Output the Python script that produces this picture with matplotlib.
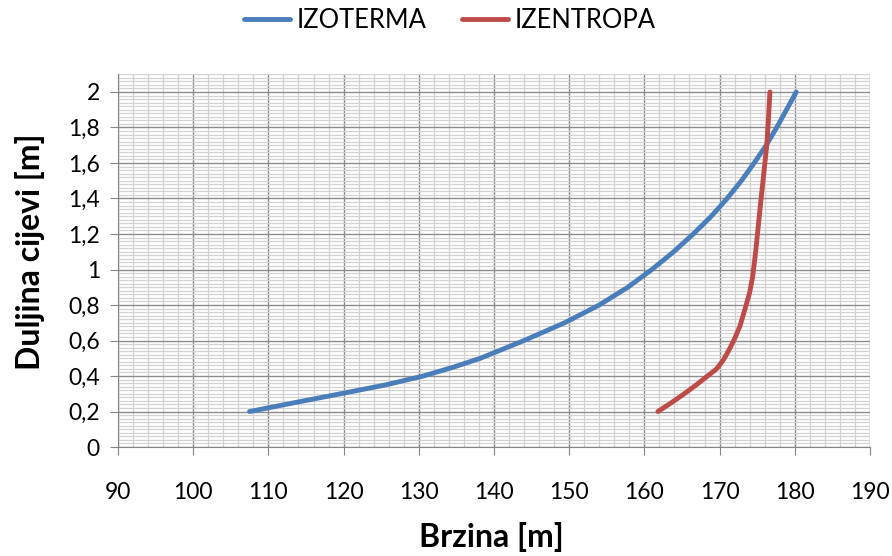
import matplotlib.pyplot as plt
from matplotlib.ticker import MultipleLocator, FuncFormatter

# IZOTERMA (blue)
izoterma_x = [107.5, 113.5, 119.6, 125.6, 130.6, 134.6, 138.2, 144.0, 149.4, 154.0,
              157.8, 161.0, 163.9, 166.5, 168.9, 171.0, 172.9, 174.6, 176.2, 177.6,
              178.9, 180.2]
izoterma_y = [0.2, 0.25, 0.3, 0.35, 0.4, 0.45, 0.5, 0.6, 0.7, 0.8,
              0.9, 1.0, 1.1, 1.2, 1.3, 1.4, 1.5, 1.6, 1.7, 1.8,
              1.9, 2.0]

# IZENTROPA (red)
izentropa_x = [161.8, 163.6, 165.3, 166.9, 168.4, 169.6, 170.5, 171.3, 172.0, 172.7,
               173.4, 174.0, 174.4, 174.8, 175.4, 175.9, 176.3, 176.5, 176.7]
izentropa_y = [0.2, 0.25, 0.3, 0.35, 0.4, 0.44, 0.49, 0.55, 0.61, 0.68,
               0.78, 0.87, 0.96, 1.1, 1.35, 1.55, 1.71, 1.85, 2.0]

plt.rcParams['font.family'] = ['Lato', 'DejaVu Sans']

fig = plt.figure(figsize=(8.92, 5.56), dpi=100)
ax = fig.add_axes([0.1323, 0.196, 0.843, 0.6705])

ax.plot(izoterma_x, izoterma_y, color='#4a7ebb', linewidth=3.5, label='IZOTERMA',
        solid_capstyle='round', solid_joinstyle='round', zorder=3)
ax.plot(izentropa_x, izentropa_y, color='#be4b48', linewidth=3.5, label='IZENTROPA',
        solid_capstyle='round', solid_joinstyle='round', zorder=3)

ax.set_xlim(90, 190)
ax.set_ylim(0, 2.1)
ax.xaxis.set_major_locator(MultipleLocator(10))
ax.xaxis.set_minor_locator(MultipleLocator(2))
ax.set_yticks([0, 0.2, 0.4, 0.6, 0.8, 1.0, 1.2, 1.4, 1.6, 1.8, 2.0])
ax.yaxis.set_minor_locator(MultipleLocator(0.02))

def comma(v, pos):
    s = f'{v:.1f}'.rstrip('0').rstrip('.')
    return s.replace('.', ',')

ax.yaxis.set_major_formatter(FuncFormatter(comma))

ax.grid(which='major', color='#8c8c8c', linewidth=1.0, zorder=1)
ax.grid(which='minor', color='#d2d2d2', linewidth=0.9, zorder=0)
ax.set_axisbelow(True)

for s in ['top', 'right']:
    ax.spines[s].set_visible(False)
for s in ['left', 'bottom']:
    ax.spines[s].set_color('#868686')

ax.tick_params(axis='both', which='major', color='#868686', length=6, labelsize=16.5)
ax.tick_params(axis='x', which='major', pad=19)
ax.tick_params(axis='y', which='major', pad=7)
ax.tick_params(which='minor', length=0)

ax.set_xlabel('Brzina [m]', fontsize=23, fontweight='bold')
ax.xaxis.set_label_coords(0.497, -0.2)
ax.set_ylabel('Duljina cijevi [m]', fontsize=23, fontweight='bold', va='center')
ax.yaxis.set_label_coords(-0.117, 0.524)

fig.legend(loc='center', bbox_to_anchor=(0.504, 0.963), ncol=2, frameon=False,
           fontsize=18.4, handlelength=1.8, columnspacing=1.4, handletextpad=0.25)

fig.savefig('out.png', dpi=100)
